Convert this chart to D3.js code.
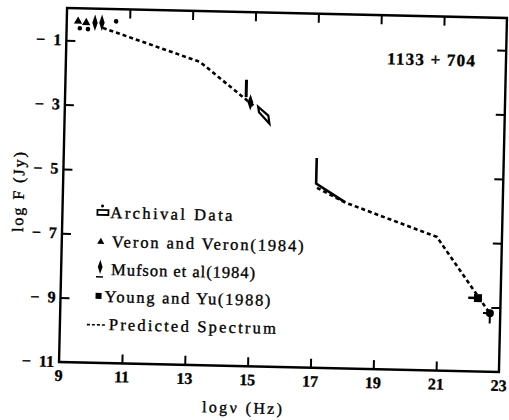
<!DOCTYPE html>
<html>
<head>
<meta charset="utf-8">
<script src="https://cdn.jsdelivr.net/npm/d3@7"></script>
<style>
  html, body { margin: 0; padding: 0; background: #fff; }
  svg { display: block; }
  text { font-family: "Liberation Serif", "DejaVu Serif", serif; fill: #000; stroke: #000; stroke-width: 0.35; }
</style>
</head>
<body>
<svg id="chart" width="509" height="420"></svg>
<script>
// Broadband spectrum of 1133+704: log flux density vs log frequency
const xTicks = [9, 11, 13, 15, 17, 19, 21, 23];
const yTicks = [-1, -3, -5, -7, -9, -11];

// Radio points
const veronPts = [[9.36, -0.40], [9.62, -0.44]];
const radioDots = [[9.42, -0.62], [9.68, -0.64], [10.57, -0.38]];
const mufsonRadio = [[9.90, -0.44], [10.12, -0.43]];

// Optical / UV
const mufsonOpt = [[14.9, -2.80]];
const mufsonBar = [[14.76, -2.10], [14.76, -2.64]];
const archivalBox = [[15.15, -2.93], [15.48, -3.20], [15.52, -3.45], [15.18, -3.10]];

// X-ray spectrum
const xrayBowtie = [[17.05, -4.48], [17.05, -5.28], [17.98, -5.83]];

// Gamma-ray
const youngYu = [[22.28, -8.72]];
const youngYuBar = [[21.97, -8.72], [22.28, -8.72]];
const gammaPt = [[22.67, -9.18]];

// Predicted spectrum (two pieces)
const predictedLow = [[10.15, -0.59], [13.27, -1.58], [15.0, -2.90]];
const predictedHigh = [[17.08, -5.41], [18.0, -5.85], [20.93, -6.85], [22.62, -9.12], [22.72, -9.28]];

const legendItems = ["Archival Data", "Veron and Veron(1984)", "Mufson et al(1984)", "Young and Yu(1988)", "Predicted Spectrum"];
const legendWidths = [122, 192, 144, 166, 167];

const L = 63, R = 503, T = 13, B = 367;
const x = d3.scaleLinear().domain([9, 23]).range([L, R]);
const y = d3.scaleLinear().domain([-11, 0]).range([B, T]);

const svg = d3.select("#chart");
// whole figure sits slightly tilted on the page
const g = svg.append("g").attr("transform", "rotate(1.3, 283, 190)");

// frame
g.append("rect").attr("x", L).attr("y", T).attr("width", R - L).attr("height", B - T)
  .attr("fill", "none").attr("stroke", "#000").attr("stroke-width", 2.4);

// axes with inward ticks
const tickLen = 9;
const axB = d3.axisBottom(x).tickValues(xTicks.slice(1, -1)).tickSizeInner(-tickLen).tickSizeOuter(0).tickFormat("");
const axT = d3.axisTop(x).tickValues(xTicks.slice(1, -1)).tickSizeInner(-tickLen).tickSizeOuter(0).tickFormat("");
const axL = d3.axisLeft(y).tickValues(yTicks.slice(0, -1)).tickSizeInner(-tickLen).tickSizeOuter(0).tickFormat("");
const axR = d3.axisRight(y).tickValues(yTicks.slice(0, -1)).tickSizeInner(-tickLen).tickSizeOuter(0).tickFormat("");
[[axB, `translate(0,${B})`], [axT, `translate(0,${T})`], [axL, `translate(${L},0)`], [axR, `translate(${R},0)`]]
  .forEach(([ax, tr]) => {
    const a = g.append("g").attr("transform", tr).call(ax);
    a.select(".domain").remove();
    a.selectAll("line").attr("stroke", "#000").attr("stroke-width", 2);
  });

// tick labels
g.append("g").selectAll("text").data(xTicks).join("text")
  .attr("x", d => x(d)).attr("y", B + 19)
  .attr("text-anchor", "middle").attr("font-size", 16).attr("font-weight", "bold")
  .text(d => d);
g.append("g").selectAll("text").data(yTicks).join("text")
  .attr("x", L - 5).attr("y", d => y(d) + 5)
  .attr("text-anchor", "end").attr("font-size", 16).attr("font-weight", "bold")
  .text(d => "\u2212\u2002" + Math.abs(d));

// axis titles
g.append("text").attr("x", 247).attr("y", 414).attr("text-anchor", "middle")
  .attr("font-size", 16).attr("textLength", 80).attr("lengthAdjust", "spacing")
  .text("log\u03bd (Hz)");
g.append("text").attr("transform", "translate(24,198) rotate(-90)").attr("text-anchor", "middle")
  .attr("font-size", 16).attr("textLength", 80).attr("lengthAdjust", "spacing")
  .text("log F (Jy)");

// source name
g.append("text").attr("x", 428).attr("y", 62).attr("text-anchor", "middle")
  .attr("font-size", 17).attr("font-weight", "bold").attr("textLength", 88).attr("lengthAdjust", "spacing")
  .text("1133 + 704");

const line = d3.line().x(d => x(d[0])).y(d => y(d[1]));

// predicted spectrum
[predictedLow, predictedHigh].forEach(p => {
  g.append("path").attr("d", line(p)).attr("fill", "none").attr("stroke", "#000")
    .attr("stroke-width", 2.6).attr("stroke-dasharray", "4,3");
});

// archival optical/UV box
g.append("path").attr("d", line(archivalBox) + "Z").attr("fill", "#fff")
  .attr("stroke", "#000").attr("stroke-width", 2.2);

// X-ray spectrum
g.append("path").attr("d", line(xrayBowtie)).attr("fill", "none").attr("stroke", "#000").attr("stroke-width", 2.6);

// Mufson et al.
g.append("path").attr("d", line(mufsonBar)).attr("stroke", "#000").attr("stroke-width", 3);
const sym = (type, size) => d3.symbol().type(type).size(size);
g.append("g").selectAll("path").data(mufsonOpt).join("path")
  .attr("transform", d => `translate(${x(d[0])},${y(d[1])}) scale(0.8,1.3)`)
  .attr("d", sym(d3.symbolDiamond, 45)());
g.append("g").selectAll("path").data(mufsonRadio).join("path")
  .attr("transform", d => `translate(${x(d[0])},${y(d[1])}) scale(0.8,1.4)`)
  .attr("d", sym(d3.symbolDiamond, 40)());

// Veron and Veron
g.append("g").selectAll("path").data(veronPts).join("path")
  .attr("transform", d => `translate(${x(d[0])},${y(d[1])})`)
  .attr("d", sym(d3.symbolTriangle, 30)());
g.append("g").selectAll("circle").data(radioDots).join("circle")
  .attr("cx", d => x(d[0])).attr("cy", d => y(d[1])).attr("r", 2.3);

// Young and Yu
g.append("path").attr("d", line(youngYuBar)).attr("stroke", "#000").attr("stroke-width", 2.5);
g.append("g").selectAll("rect").data(youngYu).join("rect")
  .attr("x", d => x(d[0]) - 4).attr("y", d => y(d[1]) - 4).attr("width", 8).attr("height", 8);

// gamma-ray point with error ticks
g.append("g").selectAll("circle").data(gammaPt).join("circle")
  .attr("cx", d => x(d[0])).attr("cy", d => y(d[1])).attr("r", 4);
g.append("path").attr("d", line([[gammaPt[0][0], gammaPt[0][1]], [gammaPt[0][0], -9.5]]))
  .attr("stroke", "#000").attr("stroke-width", 2);
g.append("path").attr("d", line([[22.45, gammaPt[0][1]], [gammaPt[0][0], gammaPt[0][1]]]))
  .attr("stroke", "#000").attr("stroke-width", 2);

// legend
const lg = g.append("g");
const rowY = [222, 251, 279, 306, 334];
const textX = [111, 113, 113, 107, 112];
lg.selectAll("text").data(legendItems).join("text")
  .attr("x", (d, i) => textX[i]).attr("y", (d, i) => rowY[i])
  .attr("font-size", 16.5).attr("textLength", (d, i) => legendWidths[i]).attr("lengthAdjust", "spacing")
  .text(d => d);
// legend keys
lg.append("rect").attr("x", 98).attr("y", rowY[0] - 8).attr("width", 11).attr("height", 5)
  .attr("fill", "#fff").attr("stroke", "#000").attr("stroke-width", 1.8);
lg.append("circle").attr("cx", 103).attr("cy", rowY[0] - 12).attr("r", 1.5);
lg.append("path").attr("transform", `translate(102,${rowY[1] - 5})`).attr("d", sym(d3.symbolTriangle, 22)());
lg.append("path").attr("transform", `translate(102,${rowY[2] - 8}) scale(0.8,1.4)`).attr("d", sym(d3.symbolDiamond, 30)());
lg.append("line").attr("x1", 98).attr("x2", 105).attr("y1", rowY[2] + 2).attr("y2", rowY[2] + 2)
  .attr("stroke", "#000").attr("stroke-width", 1.5);
lg.append("rect").attr("x", 98).attr("y", rowY[3] - 9).attr("width", 6).attr("height", 6);
lg.append("line").attr("x1", 90).attr("x2", 110).attr("y1", rowY[4] - 5).attr("y2", rowY[4] - 5)
  .attr("stroke", "#000").attr("stroke-width", 1.6).attr("stroke-dasharray", "3,2");
</script>
</body>
</html>
